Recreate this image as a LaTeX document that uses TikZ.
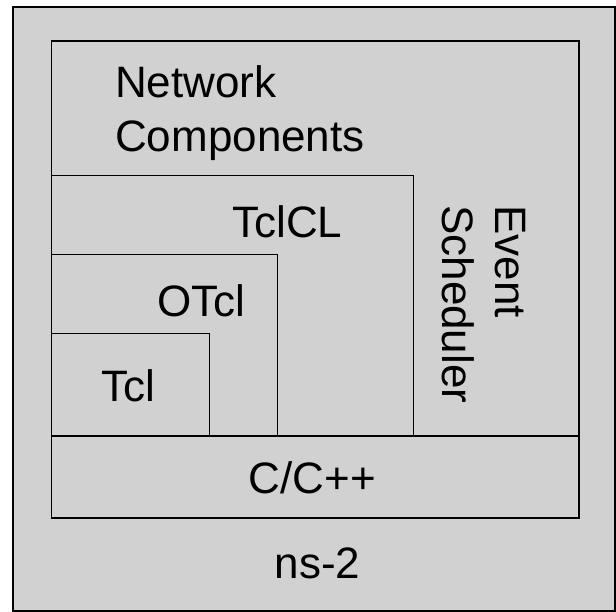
\documentclass[tikz,border=0pt]{standalone}
\usepackage{fontspec}
\setmainfont{Liberation Sans}
\definecolor{layergray}{RGB}{209,209,209}

\begin{document}
\begin{tikzpicture}[x=1pt,y=-1pt,
  lbl/.style={font=\fontsize{44}{53}\selectfont,inner sep=0pt}]
  \useasboundingbox (0,0) rectangle (616,612);
  \draw[line width=2pt,fill=layergray] (12.7,6.7) rectangle (614.5,610.5);
  \draw[line width=1.5pt] (51.7,41) rectangle (579,518);
  \draw[line width=1.5pt] (51.7,436) -- (579,436);
  \draw[line width=1pt] (51.7,436) -- (51.7,176) -- (413,176) -- (413,436);
  \draw[line width=1pt] (51.7,436) -- (51.7,255) -- (277,255) -- (277,436);
  \draw[line width=1pt] (51.7,436) -- (51.7,334) -- (209,334) -- (209,436);
  \node[lbl,anchor=base west] (net) at (115,98) {Network};
  \node[lbl,anchor=base west] (comp) at (115,152) {Components};
  \node[lbl,anchor=base west] (tclcl) at (232,238) {TclCL};
  \node[lbl,anchor=base west] (otcl) at (157,317) {OTcl};
  \node[lbl,anchor=base west] (tcl) at (101,402) {Tcl};
  \node[lbl,anchor=base] (cpp) at (312.5,493) {C/C++};
  \node[lbl,anchor=base] (ns) at (317.5,578) {ns-2};
  \node[lbl,anchor=base west,rotate=-90] (event) at (495,205) {Event};
  \node[lbl,anchor=base west,rotate=-90] (sched) at (442,205) {Scheduler};
\end{tikzpicture}
\end{document}
